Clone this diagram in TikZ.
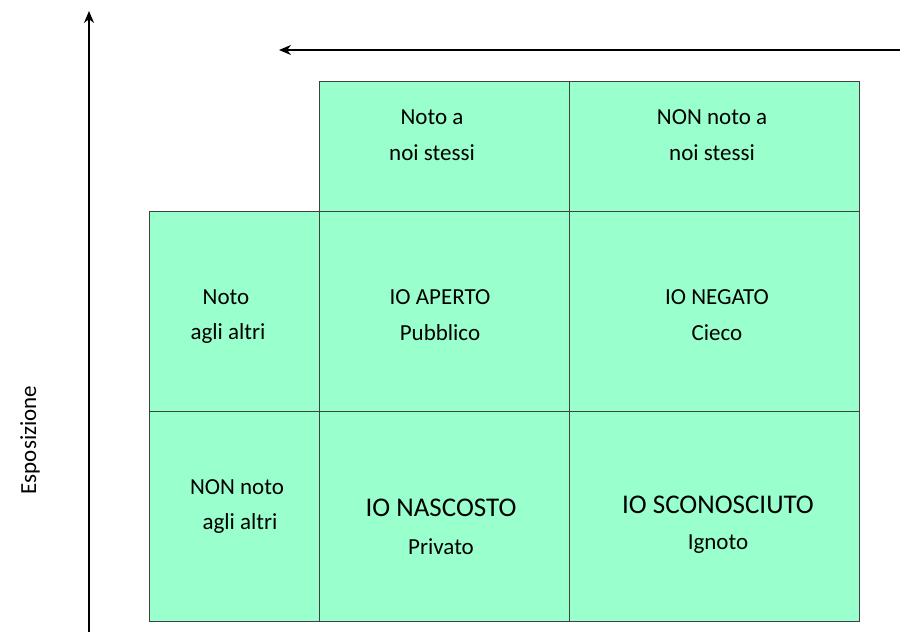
\documentclass[tikz,border=0pt]{standalone}
\usepackage{fontspec}
\setmainfont{Carlito}
\usetikzlibrary{arrows.meta}
\definecolor{cellfill}{HTML}{99FFCC}
\begin{document}
\begin{tikzpicture}[x=1pt,y=-1pt,
  cell/.style={draw=black!75,line width=0.8pt,fill=cellfill},
  lbl/.style={font=\fontsize{23}{26}\selectfont,inner sep=0pt,anchor=center},
  big/.style={font=\fontsize{27}{30}\selectfont,inner sep=0pt,anchor=center},
  axis/.style={line width=2.4pt,-{Stealth[length=12pt,width=10pt]}}]
\useasboundingbox (0,0) rectangle (900,632);
\draw[cell] (319,81) rectangle (569,211);
\draw[cell] (569,81) rectangle (859,211);
\draw[cell] (149,211) rectangle (319,411);
\draw[cell] (319,211) rectangle (569,411);
\draw[cell] (569,211) rectangle (859,411);
\draw[cell] (149,411) rectangle (319,621);
\draw[cell] (319,411) rectangle (569,621);
\draw[cell] (569,411) rectangle (859,621);
\coordinate (vb) at (89,632); \coordinate (vt) at (89,11);
\coordinate (hr) at (900,50); \coordinate (hl) at (279,50);
\draw[axis] (vb) -- (vt);
\draw[axis] (hr) -- (hl);
\node[lbl,rotate=90] (esp) at (30,440) {Esposizione};
\node[lbl] (a1) at (432,117) {Noto a};
\node[lbl] (a2) at (432,153) {noi stessi};
\node[lbl] (b1) at (712,117) {NON noto a};
\node[lbl] (b2) at (712,153) {noi stessi};
\node[lbl] (c1) at (226,297) {Noto};
\node[lbl] (c2) at (228,333) {agli altri};
\node[lbl] (d1) at (440,297) {IO APERTO};
\node[lbl] (d2) at (440,333) {Pubblico};
\node[lbl] (e1) at (717,297) {IO NEGATO};
\node[lbl] (e2) at (717,333) {Cieco};
\node[lbl] (f1) at (237,487) {NON noto};
\node[lbl] (f2) at (240,523) {agli altri};
\node[big] (g1) at (441,508) {IO NASCOSTO};
\node[lbl] (g2) at (441,547) {Privato};
\node[big] (h1) at (718,505) {IO SCONOSCIUTO};
\node[lbl] (h2) at (718,544) {Ignoto};
\end{tikzpicture}
\end{document}
